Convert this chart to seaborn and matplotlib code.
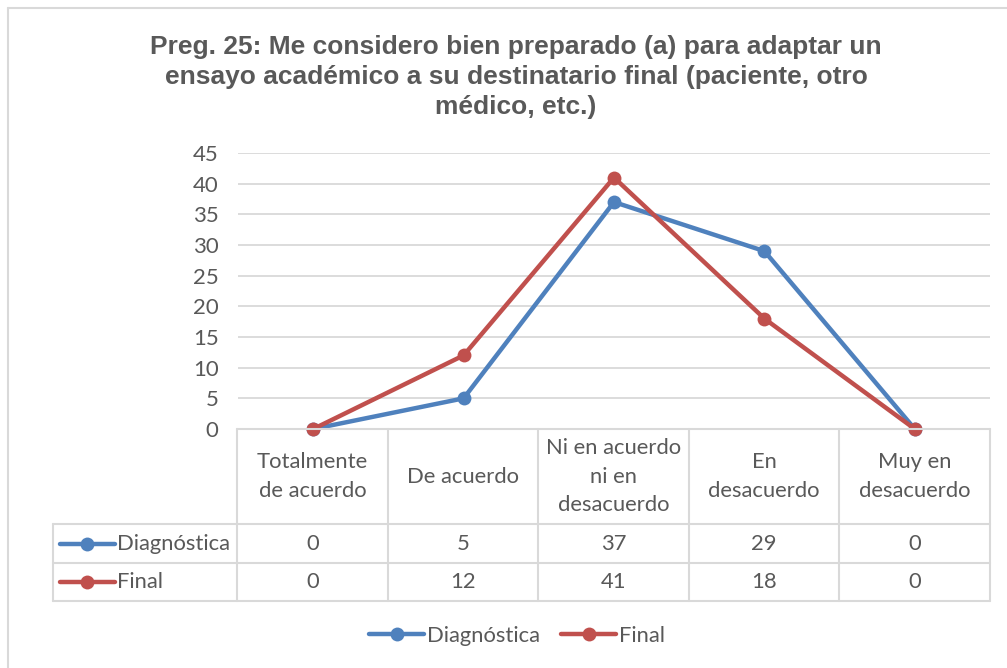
import seaborn as sns
import matplotlib.pyplot as plt
import pandas as pd
import numpy as np
from matplotlib.lines import Line2D

# --- data ---
categories = ["Totalmente\nde acuerdo", "De acuerdo", "Ni en acuerdo\nni en\ndesacuerdo",
              "En\ndesacuerdo", "Muy en\ndesacuerdo"]
series_names = ["Diagnóstica", "Final"]
diagnostica = [0, 5, 37, 29, 0]
final = [0, 12, 41, 18, 0]
title = ("Preg. 25: Me considero bien preparado (a) para adaptar un\n"
         "ensayo académico a su destinatario final (paciente, otro\n"
         "médico, etc.)")

colors = {"Diagnóstica": "#4f81bd", "Final": "#c0504d"}
text_color = "#595959"
grid_color = "#d9d9d9"
body_font = ["Lato", "DejaVu Sans"]
fs = 15.8

df = pd.DataFrame({
    "pos": list(range(len(categories))) * 2,
    "valor": diagnostica + final,
    "serie": [series_names[0]] * len(categories) + [series_names[1]] * len(categories),
})

# --- figure ---
W, H, dpi = 1007, 668, 100
fig = plt.figure(figsize=(W / dpi, H / dpi), dpi=dpi)
sns.set_style("white")
plt.rcParams["font.family"] = body_font

def fx(px):
    return px / W

def fy(py):
    return 1 - py / H

# outer chart border (left and top visible)
fig.add_artist(Line2D([fx(8), fx(8)], [fy(8), 0], transform=fig.transFigure,
                      color=grid_color, lw=1.5))
fig.add_artist(Line2D([fx(8), 1], [fy(8), fy(8)], transform=fig.transFigure,
                      color=grid_color, lw=1.5))

# main plot area
ax = fig.add_axes([fx(238), fy(429), fx(990) - fx(238), fy(153) - fy(429)])
sns.lineplot(data=df, x="pos", y="valor", hue="serie", palette=colors, marker="o",
             markersize=10, markeredgewidth=0, linewidth=3.2, sort=False,
             legend=False, ax=ax)
ax.set_xlim(-0.5, len(categories) - 0.5)
ax.set_ylim(0, 45)
ax.set_yticks(np.arange(0, 46, 5))
ax.set_xticks([])
ax.set_xlabel("")
ax.set_ylabel("")
ax.yaxis.grid(True, color=grid_color, lw=1.3)
ax.set_axisbelow(True)
for s in ax.spines.values():
    s.set_visible(False)
ax.tick_params(axis="y", length=0, pad=14, labelsize=16, labelcolor=text_color)
for line in ax.lines:
    line.set_clip_on(False)

# data table
tab = fig.add_axes([fx(53), fy(601), fx(990) - fx(53), fy(429) - fy(601)])
tab.axis("off")
n = len(categories)
left_edge = -0.5 - (238 - 53) / 151
tab.set_xlim(left_edge, n - 0.5)
tab.set_ylim(601, 429)
y_head, y_r1, y_r2, y_bot = 429, 524, 563, 601
tline = dict(color=grid_color, lw=1.5, clip_on=False)
for xv in np.arange(-0.5, n, 1.0):
    tab.plot([xv, xv], [y_head, y_bot], **tline)
tab.plot([left_edge, left_edge], [y_r1, y_bot], **tline)
tab.plot([-0.5, n - 0.5], [y_head, y_head], **tline)
for yv in (y_r1, y_r2, y_bot):
    tab.plot([left_edge, n - 0.5], [yv, yv], **tline)

for i, cat in enumerate(categories):
    tab.text(i, (y_head + y_r1) / 2, cat, ha="center", va="center", fontsize=fs,
             color=text_color, linespacing=1.55)

key_x0 = left_edge + (60 - 53) / 151
key_x1 = left_edge + (115 - 53) / 151
key_xm = left_edge + (87 - 53) / 151
for name, vals, yc in zip(series_names, [diagnostica, final],
                          [(y_r1 + y_r2) / 2, (y_r2 + y_bot) / 2]):
    tab.plot([key_x0, key_x1], [yc, yc], color=colors[name], lw=3.2, clip_on=False)
    tab.plot([key_xm], [yc], marker="o", ms=10, mew=0, color=colors[name], clip_on=False)
    tab.text(key_x1 + 0.015, yc, name, ha="left", va="center", fontsize=fs, color=text_color)
    for i, v in enumerate(vals):
        tab.text(i, yc, str(v), ha="center", va="center", fontsize=fs, color=text_color)

# title
fig.text(fx(516), fy(77), title, ha="center", va="center", fontsize=19,
         fontweight="bold", color=text_color, family=["Liberation Sans", "DejaVu Sans"],
         linespacing=1.29)

# bottom legend
handles = [Line2D([], [], color=colors[nm], lw=3.2, marker="o", ms=10, mew=0)
           for nm in series_names]
fig.legend(handles, series_names, loc="center", bbox_to_anchor=(fx(517), fy(636)),
           ncol=2, frameon=False, fontsize=fs, labelcolor=text_color,
           handlelength=2.5, handletextpad=0.1, columnspacing=1.0)

plt.savefig("out.png", dpi=dpi)
